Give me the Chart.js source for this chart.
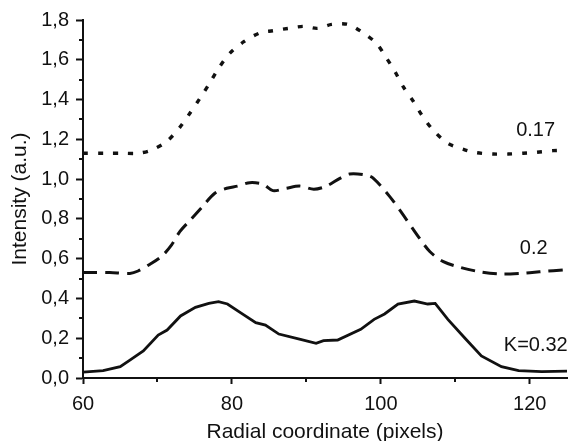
<!DOCTYPE html>
<html>
<head>
<meta charset="utf-8">
<script src="https://cdn.jsdelivr.net/npm/chart.js@4"></script>
<style>
  html, body { margin: 0; padding: 0; background: #fff; }
  #wrap { width: 570px; height: 441px; }
</style>
</head>
<body>
<div id="wrap"><canvas id="c" width="570" height="441"></canvas></div>
<script>
// ---- Data ----
const xSolid = [60, 62.7, 65, 66.3, 68.1, 70.1, 71.3, 73.1, 75.1, 76.9, 78.2, 79.4, 81.6, 83.2, 84.5, 86.3, 89.2, 91.3, 92.3, 94.2, 97.3, 99.1, 100.5, 102.3, 104.5, 106.3, 107.3, 109.0, 111.3, 113.5, 116.2, 118.5, 121.6, 125];
const ySolid = [0.03, 0.037, 0.057, 0.09, 0.136, 0.216, 0.241, 0.312, 0.355, 0.375, 0.384, 0.372, 0.317, 0.278, 0.266, 0.221, 0.194, 0.174, 0.188, 0.191, 0.245, 0.295, 0.322, 0.372, 0.387, 0.372, 0.375, 0.295, 0.2, 0.111, 0.057, 0.037, 0.032, 0.035];

const xDashed = [60, 63.6, 66.3, 67.4, 69, 70.6, 71.9, 73, 74.4, 75.9, 77.7, 79.3, 80.8, 82.4, 84.2, 85.5, 87.3, 89.1, 91, 92.7, 94.5, 95.8, 97.9, 99, 101.2, 103, 105.2, 106.6, 108.4, 110.6, 113.3, 116, 118.7, 121.3, 125];
const yDashed = [0.531, 0.53, 0.526, 0.538, 0.572, 0.613, 0.669, 0.736, 0.794, 0.856, 0.929, 0.954, 0.965, 0.982, 0.974, 0.942, 0.954, 0.965, 0.949, 0.965, 1.004, 1.026, 1.021, 1.004, 0.912, 0.82, 0.702, 0.635, 0.585, 0.557, 0.534, 0.523, 0.526, 0.534, 0.545];

const xDotted = [60, 63, 65.4, 67.4, 69.2, 71.2, 73, 74.4, 75.7, 77, 78.2, 79.7, 81.6, 83.8, 85.5, 87.6, 89.6, 91.5, 93.4, 95.6, 97.4, 99.4, 100.7, 101.9, 103, 104.4, 105.5, 107, 109, 111.1, 112.8, 115.1, 117.1, 119.1, 120.9, 123.1, 125];
const yDotted = [1.13, 1.13, 1.13, 1.13, 1.146, 1.188, 1.26, 1.334, 1.406, 1.482, 1.557, 1.632, 1.691, 1.736, 1.746, 1.758, 1.768, 1.758, 1.778, 1.778, 1.741, 1.683, 1.612, 1.54, 1.465, 1.389, 1.322, 1.247, 1.18, 1.15, 1.133, 1.126, 1.126, 1.13, 1.135, 1.143, 1.146];

const curveLabels = ['0.17', '0.2', 'K=0.32'];
const xTicks = [60, 80, 100, 120];
const yTicks = [0, 0.2, 0.4, 0.6, 0.8, 1.0, 1.2, 1.4, 1.6, 1.8];

const xTitle = 'Radial coordinate (pixels)';
const yTitle = 'Intensity (a.u.)';

// ---- Helpers ----
const zip = (xs, ys) => xs.map((x, i) => ({ x: x, y: ys[i] }));
const INK = '#111';
const FONT = 'Arial, "Liberation Sans", sans-serif';

// annotation placement (data coords, right-aligned)
const labelAnchors = [
  { x: 123.4, y: 1.247 },
  { x: 122.4, y: 0.649 },
  { x: 125.1, y: 0.166 }
];

const minorTicks = {
  id: 'minorTicks',
  afterDraw(chart) {
    const ctx = chart.ctx;
    const xs = chart.scales.x, ys = chart.scales.y;
    ctx.save();
    ctx.strokeStyle = INK;
    ctx.lineWidth = 2;
    for (let v = 70; v <= 125; v += 20) {
      const px = Math.round(xs.getPixelForValue(v));
      ctx.beginPath();
      ctx.moveTo(px, ys.bottom);
      ctx.lineTo(px, ys.bottom + 4);
      ctx.stroke();
    }
    for (let v = 0.1; v < 1.8; v += 0.2) {
      const py = Math.round(ys.getPixelForValue(v));
      ctx.beginPath();
      ctx.moveTo(xs.left, py);
      ctx.lineTo(xs.left - 4, py);
      ctx.stroke();
    }
    ctx.fillStyle = INK;
    ctx.font = '20px ' + FONT;
    ctx.textAlign = 'right';
    ctx.textBaseline = 'middle';
    curveLabels.forEach((t, i) => {
      const a = labelAnchors[i];
      ctx.fillText(t, xs.getPixelForValue(a.x), ys.getPixelForValue(a.y));
    });
    ctx.restore();
  }
};

new Chart(document.getElementById('c'), {
  type: 'line',
  data: {
    datasets: [
      { label: '0.17', data: zip(xDotted, yDotted), borderColor: INK, borderWidth: 3.4, borderDash: [5, 10], borderCapStyle: 'butt', pointRadius: 0, tension: 0.3, fill: false },
      { label: '0.2', data: zip(xDashed, yDashed), borderColor: INK, borderWidth: 3, borderDash: [14, 8], borderCapStyle: 'butt', pointRadius: 0, tension: 0.3, fill: false },
      { label: 'K=0.32', data: zip(xSolid, ySolid), borderColor: INK, borderWidth: 2.8, pointRadius: 0, tension: 0, fill: false }
    ]
  },
  options: {
    responsive: false,
    animation: false,
    layout: { padding: { left: 8, right: 3, top: 20, bottom: 0 } },
    plugins: { legend: { display: false }, tooltip: { enabled: false } },
    scales: {
      x: {
        type: 'linear',
        min: 60, max: 125,
        afterBuildTicks(scale) { scale.ticks = xTicks.map(v => ({ value: v })); },
        afterFit(scale) { scale.height = 63; },
        grid: { drawOnChartArea: false, drawTicks: true, tickLength: 6, tickWidth: 2, color: INK },
        border: { display: true, color: INK, width: 2 },
        ticks: { color: INK, font: { size: 20, family: FONT }, padding: 8, maxRotation: 0, autoSkip: false },
        title: { display: true, text: xTitle, color: INK, font: { size: 21, family: FONT, lineHeight: 0.85 }, padding: { top: 0, bottom: 0 } }
      },
      y: {
        type: 'linear',
        min: 0, max: 1.8,
        afterBuildTicks(scale) { scale.ticks = yTicks.map(v => ({ value: v })); },
        afterFit(scale) { scale.width = 75; },
        grid: { drawOnChartArea: false, drawTicks: true, tickLength: 7, tickWidth: 2, color: INK },
        border: { display: true, color: INK, width: 2 },
        ticks: { color: INK, font: { size: 20, family: FONT }, padding: 7, autoSkip: false,
          callback: v => Number(v).toFixed(1).replace('.', ',') },
        title: { display: true, text: yTitle, color: INK, font: { size: 21, family: FONT }, padding: { top: 0, bottom: 2 } }
      }
    }
  },
  plugins: [minorTicks]
});
</script>
</body>
</html>
